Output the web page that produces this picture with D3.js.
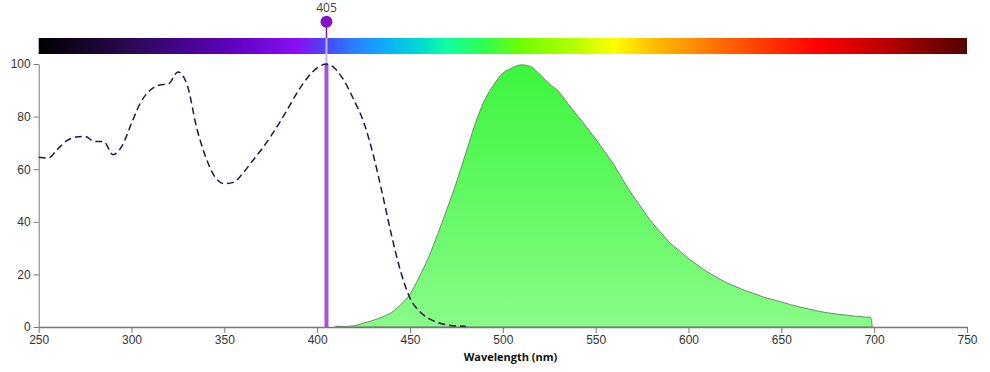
<!DOCTYPE html>
<html>
<head>
<meta charset="utf-8">
<script src="https://cdn.jsdelivr.net/npm/d3@7"></script>
<style>
  body { margin: 0; background: #fff; }
  svg { display: block; font-family: "Open Sans", "Noto Sans", sans-serif; }
  .axis text { font-size: 12px; fill: #333; }
  .axis path, .axis line { stroke: #777; }
</style>
</head>
<body>
<svg id="chart"></svg>
<script>
// excitation spectrum (dashed), nm / %
var exWave = [250,255,260,265,270,275,280,285,290,295,300,305,310,315,320,325,330,335,340,345,350,355,360,365,370,375,380,385,390,395,400,405,410,415,420,425,430,435,440,445,450,455,460,465,470,475,480];
var exVal  = [64.5,64.2,67.5,70.8,72.2,72.5,70.5,70.5,65.5,69,77.5,85.5,90,92,92.5,97,92,76,64.5,57,54.5,55,58.5,63,67.5,72.5,78,84,90,95,98.5,100,98,93,86,78,66,51,35,21,11,6,3.3,1.7,0.8,0.4,0.3];

// emission spectrum (filled)
var emWave = [410,415,420,425,430,435,440,445,450,455,460,465,470,475,480,485,490,495,500,505,510,515,520,525,530,535,540,545,550,555,560,565,570,575,580,585,590,595,600,605,610,615,620,625,630,635,640,645,650,655,660,665,670,675,680,685,690,695,698,699];
var emVal  = [0.3,0.2,0.5,1.5,2.5,3.8,5.5,8.5,12.5,19,26.5,35.5,45,55,66,77,86,92,96.5,98.5,99.7,99,96,92.5,89.5,85,80.5,76,71.5,66.5,61.5,55.5,50,45,40,36,32,29,26,23.5,21,19,17,15.5,14,12.8,11.5,10.5,9.5,8.5,7.6,6.8,6,5.4,4.9,4.5,4.1,3.8,3.7,0];

// laser line
var laser = 405;

// colour bar stops (nm, colour)
var barWave  = [250,300,350,390,405,420,435,455,470,490,510,540,560,580,615,645,670,700,750];
var barColor = ["#000000","#2c0a55","#5a00b8","#8a10f5","#4a48f5","#2a80ff","#10a8ff","#00d8d0","#10ffa0","#30ff50","#70ff00","#b8ff00","#ffff00","#ffc000","#ff7000","#ff3000","#ff0000","#c80000","#500000"];

var xTicks = [250,300,350,400,450,500,550,600,650,700,750];
var yTicks = [0,20,40,60,80,100];

var W = 990, H = 372,
    margin = {top: 64, right: 23, bottom: 45, left: 38.7},
    width = W - margin.left - margin.right,
    height = H - margin.top - margin.bottom;

var svg = d3.select("#chart").attr("width", W).attr("height", H);
var defs = svg.append("defs");

var x = d3.scaleLinear().domain([250, 750]).range([0, width]);
var y = d3.scaleLinear().domain([0, 100]).range([height, 0]);

var g = svg.append("g").attr("transform", "translate(" + margin.left + "," + margin.top + ")");

// colour bar
var bar = defs.append("linearGradient").attr("id", "spectrum")
    .attr("gradientUnits", "userSpaceOnUse")
    .attr("x1", x(250)).attr("x2", x(750)).attr("y1", 0).attr("y2", 0);
barWave.forEach(function(w, i) {
  bar.append("stop").attr("offset", (w - 250) / 500).attr("stop-color", barColor[i]);
});
g.append("rect")
    .attr("x", x(250)).attr("y", -26)
    .attr("width", x(750) - x(250)).attr("height", 16)
    .attr("fill", "url(#spectrum)");

// green fill gradient
var fillGrad = defs.append("linearGradient").attr("id", "emFill")
    .attr("gradientUnits", "userSpaceOnUse")
    .attr("x1", 0).attr("x2", 0).attr("y1", y(100)).attr("y2", y(0));
fillGrad.append("stop").attr("offset", 0).attr("stop-color", "#3cf53c");
fillGrad.append("stop").attr("offset", 1).attr("stop-color", "#88fc88");

var emData = emWave.map(function(w, i) { return {w: w, v: emVal[i]}; });
var exData = exWave.map(function(w, i) { return {w: w, v: exVal[i]}; });

g.append("path")
    .datum(emData)
    .attr("fill", "url(#emFill)")
    .attr("stroke", "#6a8c6a")
    .attr("stroke-width", 1)
    .attr("d", d3.area()
        .x(function(d) { return x(d.w); })
        .y0(y(0))
        .y1(function(d) { return y(d.v); })
        .curve(d3.curveMonotoneX));

// axes
var xAxis = g.append("g")
    .attr("class", "axis")
    .attr("transform", "translate(0," + height + ")")
    .call(d3.axisBottom(x).tickValues(xTicks).tickSize(6).tickSizeOuter(0).tickPadding(2));
xAxis.select(".domain").attr("stroke", "#555").attr("stroke-width", 1.5);

g.append("g")
    .attr("class", "axis")
    .call(d3.axisLeft(y).tickValues(yTicks).tickSize(5).tickSizeOuter(0).tickPadding(3));

g.append("text")
    .attr("x", 471.8)
    .attr("y", height + 34)
    .attr("text-anchor", "middle")
    .style("font-size", "11px")
    .style("font-weight", "bold")
    .attr("fill", "#111")
    .text("Wavelength (nm)");

// laser marker
var lx = x(laser);
g.append("line")
    .attr("x1", lx).attr("x2", lx).attr("y1", -42).attr("y2", -26)
    .attr("stroke", "#7a20b8").attr("stroke-width", 1.5);
g.append("line")
    .attr("x1", lx).attr("x2", lx).attr("y1", -26).attr("y2", 0)
    .attr("stroke", "#c8b8e8").attr("stroke-width", 2);
g.append("line")
    .attr("x1", lx).attr("x2", lx).attr("y1", y(100)).attr("y2", y(0))
    .attr("stroke", "#a056d8").attr("stroke-width", 4);
g.append("circle")
    .attr("cx", lx).attr("cy", -42.3).attr("r", 6)
    .attr("fill", "#8412c8");
g.append("text")
    .attr("x", lx).attr("y", -52)
    .attr("text-anchor", "middle")
    .style("font-size", "12px")
    .attr("fill", "#444")
    .text(laser);

// excitation dashed line
g.append("path")
    .datum(exData)
    .attr("fill", "none")
    .attr("stroke", "#24144e")
    .attr("stroke-width", 1.5)
    .attr("stroke-dasharray", "7,4")
    .attr("d", d3.line()
        .x(function(d) { return x(d.w); })
        .y(function(d) { return y(d.v); })
        .curve(d3.curveMonotoneX));
</script>
</body>
</html>
